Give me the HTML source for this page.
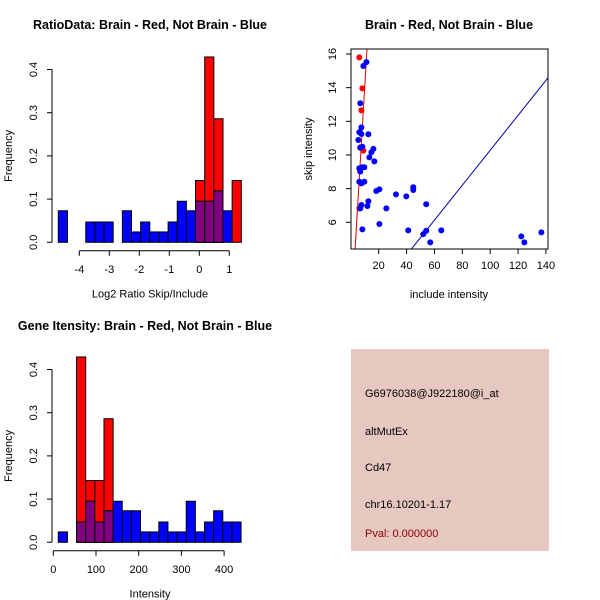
<!DOCTYPE html>
<html><head><meta charset="utf-8"><style>
html,body{margin:0;padding:0;background:#fff;}
svg{display:block;font-family:"Liberation Sans",sans-serif;}
</style></head><body>
<svg id="c" width="600" height="600" viewBox="0 0 600 600"></svg>
<script>
// ---- Ratio histogram data (20 bins) ----
const ratioBinStart = -4.7;
const ratioBinWidth = 0.305;
const ratioRed  = [0,0,0,0,0,0,0,0,0,0,0,0,0,0,0,0.143,0.429,0.286,0,0.143];
const ratioBlue = [0.073,0,0,0.047,0.047,0.047,0,0.073,0.024,0.047,0.024,0.024,0.047,0.095,0.073,0.095,0.095,0.119,0.073,0];
const ratioXTicks = [-4,-3,-2,-1,0,1];
const freqTicks = ["0.0","0.1","0.2","0.3","0.4"];
// ---- Intensity histogram data (20 bins) ----
const intBinStart = 11.7;
const intBinWidth = 21.4;
const intRed  = [0,0,0.429,0.143,0.143,0.286,0,0,0,0,0,0,0,0,0,0,0,0,0,0];
const intBlue = [0.024,0,0.047,0.095,0.047,0.073,0.095,0.073,0.073,0.024,0.024,0.047,0.024,0.024,0.095,0.024,0.047,0.073,0.047,0.047];
const intXTicks = [0,100,200,300,400];
// ---- Scatter data ----
const redX = [6.1,8.3,7.6,9.0,6.8,6.1];
const redY = [15.80,13.96,12.65,10.26,10.45,6.83];
const blueX = [9.0,11.2,6.8,7.6,6.1,5.4,7.6,12.6,8.3,6.8,13.3,14.8,16.2,16.9,6.1,8.3,9.7,6.8,6.1,9.7,7.6,18.3,20.5,12.6,7.6,11.9,6.8,25.5,32.4,39.8,44.8,44.8,54.1,8.3,20.5,41.2,52.0,54.1,57.0,64.9,122.3,124.5,136.7];
const blueY = [15.29,15.52,13.07,11.64,11.35,10.89,11.25,11.23,10.49,10.43,9.86,10.16,10.36,9.62,9.21,9.27,9.27,9.01,8.41,8.41,8.31,7.86,7.96,7.25,7.03,6.97,6.83,6.83,7.66,7.54,8.08,7.92,7.07,5.58,5.90,5.52,5.30,5.50,4.81,5.52,5.16,4.81,5.40];
const redLine = [0.13, 1.392];   // intercept, slope
const blueLine = [-0.10, 0.1038];
const scXTicks = [20,40,60,80,100,120,140];
const scYTicks = [6,8,10,12,14,16];

const NS="http://www.w3.org/2000/svg";
const svg=document.getElementById('c');
function el(tag,attrs,parent){const e=document.createElementNS(NS,tag);for(const k in attrs)e.setAttribute(k,attrs[k]);(parent||svg).appendChild(e);return e;}
function txt(s,x,y,attrs,parent){const t=el('text',Object.assign({x:x,y:y},attrs),parent);t.textContent=s;return t;}

function hist(gName,start,width,red,blue,xTicks,xPx,y0,yPerUnit,xTickMin,xTickMax,xLabel,title,titleX,titleY){
  const g=el('g',{});
  
  
  const yPx=v=>y0-v*yPerUnit;
  for(let i=0;i<red.length;i++){
    const x1=xPx(start+i*width), x2=xPx(start+(i+1)*width);
    const r=red[i], b=blue[i];
    if(r>0){const e=el('rect',{x:x1,y:yPx(r),width:x2-x1,height:y0-yPx(r),fill:'#ff0000',stroke:'#000','stroke-width':1},g);
      }
    if(b>0){const e=el('rect',{x:x1,y:yPx(b),width:x2-x1,height:y0-yPx(b),fill:'#0000ff',stroke:'#000','stroke-width':1},g);
      }
    const m=Math.min(r,b);
    if(m>0){const e=el('rect',{x:x1,y:yPx(m),width:x2-x1,height:y0-yPx(m),fill:'#800080',stroke:'#000','stroke-width':1},g);
      }
  }
  // y axis
  el('line',{x1:52,y1:yPx(0),x2:52,y2:yPx(0.4),stroke:'#000'},g);
  freqTicks.forEach(s=>{const v=parseFloat(s);const y=yPx(v);
    el('line',{x1:47,y1:y,x2:52,y2:y,stroke:'#000'},g);
    txt(s,0,0,{'font-size':11,'text-anchor':'middle',transform:`translate(37,${y}) rotate(-90)`},g);});
  // x axis
  const ay=y0+8.5;
  el('line',{x1:xPx(xTickMin),y1:ay,x2:xPx(xTickMax),y2:ay,stroke:'#000'},g);
  xTicks.forEach(v=>{const x=xPx(v);el('line',{x1:x,y1:ay,x2:x,y2:ay+5,stroke:'#000'},g);
    txt(String(v),x,ay+22,{'font-size':11,'text-anchor':'middle'},g);});
  const xl=txt(xLabel,150,y0+55,{'font-size':11,'text-anchor':'middle'},g);
  
  const yl=txt('Frequency',0,0,{'font-size':11,'text-anchor':'middle',transform:`translate(12,${yPx(0.2)}) rotate(-90)`},g);
  
  const t=txt(title,titleX,titleY,{'font-size':12.5,'font-weight':'bold','text-anchor':'middle'},g);
  
}

hist('ratio-histogram',ratioBinStart,ratioBinWidth,ratioRed,ratioBlue,ratioXTicks,v=>199.3+30*v,242.3,432,-4,1,'Log2 Ratio Skip/Include','RatioData: Brain - Red, Not Brain - Blue',150,29);
hist('intensity-histogram',intBinStart,intBinWidth,intRed,intBlue,intXTicks,v=>53.3+0.427*v,542.3,432,0,400,'Intensity','Gene Itensity: Brain - Red, Not Brain - Blue',145,330);

// scatter
(function(){
  const g=el('g',{});
  
  
  const X=v=>350.8+1.394*v, Y=v=>222.3-(v-6)*16.83;
  const L=351,R=548,T=49,B=249;
  const cp=el('clipPath',{id:'scClip'},g);el('rect',{x:L,y:T,width:R-L,height:B-T},cp);
  const lg=el('g',{'clip-path':'url(#scClip)'},g);
  [[redLine,'#dd0000'],[blueLine,'#0000bb']].forEach(([ln,c])=>{
    const e=el('line',{x1:X(0),y1:Y(ln[0]),x2:X(150),y2:Y(ln[0]+ln[1]*150),stroke:c,'stroke-width':1},lg);
    
  });
  redX.forEach((v,i)=>{const e=el('circle',{cx:X(v),cy:Y(redY[i]),r:3,fill:'#ff0000'},lg);
    });
  blueX.forEach((v,i)=>{const e=el('circle',{cx:X(v),cy:Y(blueY[i]),r:3,fill:'#0000ff'},lg);
    });
  el('rect',{x:L,y:T,width:R-L,height:B-T,fill:'none',stroke:'#000'},g);
  scXTicks.forEach(v=>{const x=X(v);el('line',{x1:x,y1:B,x2:x,y2:B+5,stroke:'#000'},g);
    txt(String(v),x,B+20,{'font-size':11,'text-anchor':'middle'},g);});
  scYTicks.forEach(v=>{const y=Y(v);el('line',{x1:L,y1:y,x2:L-5,y2:y,stroke:'#000'},g);
    txt(String(v),0,0,{'font-size':11,'text-anchor':'middle',transform:`translate(336,${y}) rotate(-90)`},g);});
  const xl=txt('include intensity',449,298,{'font-size':11,'text-anchor':'middle'},g);
  
  const yl=txt('skip intensity',0,0,{'font-size':11,'text-anchor':'middle',transform:'translate(312,149) rotate(-90)'},g);
  
  const t=txt('Brain - Red, Not Brain - Blue',449,29,{'font-size':12.5,'font-weight':'bold','text-anchor':'middle'},g);
  
})();

// info panel
(function(){
  const g=el('g',{});
  
  
  el('rect',{x:351,y:349,width:198,height:202,fill:'#e6c8c0'},g);
  const lines=[['G6976038@J922180@i_at',397,'#000','probe-id'],['altMutEx',435,'#000','event-type'],['Cd47',471,'#000','gene-name'],['chr16.10201-1.17',508,'#000','location'],['Pval: 0.000000',537,'#8b0000','p-value']];
  lines.forEach(([s,y,c,n])=>{const t=txt(s,365,y,{'font-size':11,fill:c},g);
    });
})();
</script>
</body></html>
